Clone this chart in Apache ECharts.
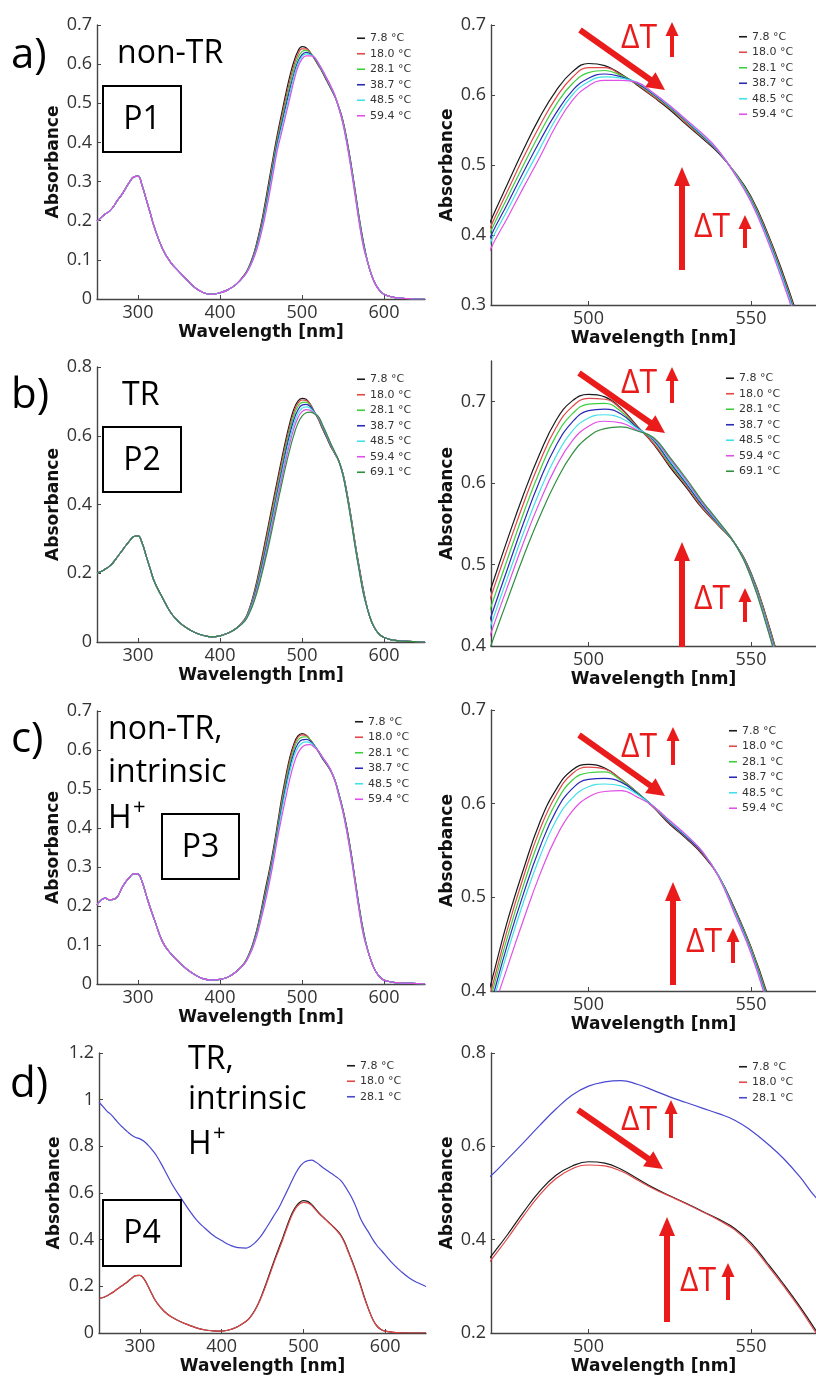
<!DOCTYPE html>
<html><head><meta charset="utf-8">
<script src="https://cdn.jsdelivr.net/npm/echarts@6/dist/echarts.min.js"></script>
<style>html,body{margin:0;padding:0;background:#fff}#c{width:816px;height:1381px}</style>
</head><body><div id="c"></div>
<script>
// ---------- wavelength grids (nm) ----------
const WL_UV = [250,255,260,265,270,275,280,285,290,295,300,305,310,315,320,330,340,350,360,370,380,390,400,410,420];
const WL_VIS = [430,435,440,445,450,455,460,465,470,475,480,485,490,495,500,505,510,515,520,525,530,535,540,545,550,555,560,565,570,575];
const WL_TAIL = [580,585,590,595,600,610,620,630,640,650];

// ---------- tick labels ----------
const X_TICKS_FULL = [300,400,500,600];
const X_TICKS_ZOOM = [500,550];
const Y_TICKS_A_FULL = [0,0.1,0.2,0.3,0.4,0.5,0.6,0.7];
const Y_TICKS_A_ZOOM = [0.3,0.4,0.5,0.6,0.7];
const Y_TICKS_B_FULL = [0,0.2,0.4,0.6,0.8];
const Y_TICKS_B_ZOOM = [0.4,0.5,0.6,0.7];
const Y_TICKS_C_FULL = [0,0.1,0.2,0.3,0.4,0.5,0.6,0.7];
const Y_TICKS_C_ZOOM = [0.4,0.5,0.6,0.7];
const Y_TICKS_D_FULL = [0,0.2,0.4,0.6,0.8,1,1.2];
const Y_TICKS_D_ZOOM = [0.2,0.4,0.6,0.8];

// ---------- legend names ----------
const TEMPS6 = ['7.8 °C','18.0 °C','28.1 °C','38.7 °C','48.5 °C','59.4 °C'];
const TEMPS7 = ['7.8 °C','18.0 °C','28.1 °C','38.7 °C','48.5 °C','59.4 °C','69.1 °C'];
const TEMPS_D = ['7.8 °C','18.0 °C','28.1 °C\u200b'];

// ---------- panel a (P1, non-TR) ----------
const A_UV = [0.199,0.208,0.217,0.224,0.236,0.252,0.266,0.283,0.300,0.312,0.314,0.290,0.255,0.219,0.183,0.128,0.093,0.070,0.048,0.028,0.016,0.012,0.016,0.024,0.038];
const A_TAIL = [0.095,0.060,0.036,0.021,0.012,0.005,0.002,0.001,0.000,0.000];
const A_78  = [0.062,0.081,0.108,0.145,0.190,0.245,0.305,0.364,0.421,0.472,0.522,0.568,0.606,0.633,0.645,0.642,0.630,0.614,0.597,0.579,0.558,0.538,0.517,0.490,0.455,0.404,0.343,0.275,0.205,0.145];
const A_180 = [0.062,0.080,0.106,0.141,0.185,0.238,0.297,0.356,0.413,0.462,0.511,0.556,0.596,0.625,0.639,0.639,0.629,0.615,0.598,0.581,0.560,0.540,0.518,0.489,0.453,0.402,0.340,0.272,0.202,0.142];
const A_281 = [0.061,0.079,0.104,0.138,0.180,0.232,0.290,0.349,0.406,0.453,0.500,0.545,0.586,0.616,0.632,0.635,0.628,0.616,0.600,0.582,0.562,0.541,0.519,0.489,0.452,0.400,0.338,0.270,0.200,0.140];
const A_387 = [0.061,0.078,0.102,0.135,0.176,0.226,0.283,0.342,0.399,0.444,0.490,0.534,0.574,0.606,0.624,0.630,0.626,0.617,0.601,0.583,0.563,0.542,0.519,0.488,0.450,0.398,0.336,0.267,0.197,0.138];
const A_485 = [0.060,0.077,0.100,0.131,0.171,0.219,0.275,0.334,0.391,0.435,0.480,0.523,0.566,0.600,0.619,0.626,0.624,0.618,0.602,0.584,0.564,0.543,0.520,0.488,0.449,0.396,0.334,0.265,0.195,0.136];
const A_594 = [0.060,0.076,0.098,0.127,0.165,0.211,0.265,0.323,0.381,0.424,0.468,0.511,0.556,0.592,0.613,0.621,0.621,0.618,0.603,0.585,0.565,0.545,0.521,0.487,0.447,0.393,0.330,0.261,0.191,0.132];

// ---------- panel b (P2, TR) ----------
const B_UV = [0.200,0.205,0.212,0.220,0.232,0.248,0.264,0.280,0.295,0.307,0.309,0.288,0.250,0.212,0.175,0.128,0.085,0.058,0.040,0.027,0.019,0.015,0.018,0.026,0.040];
const B_TAIL = [0.095,0.058,0.035,0.021,0.013,0.006,0.003,0.002,0.001,0.000];
const B_78  = [0.066,0.092,0.130,0.178,0.233,0.292,0.352,0.412,0.471,0.530,0.586,0.636,0.677,0.701,0.709,0.706,0.692,0.670,0.648,0.620,0.595,0.569,0.548,0.526,0.490,0.432,0.362,0.285,0.215,0.150];
const B_180 = [0.065,0.090,0.126,0.172,0.225,0.283,0.342,0.401,0.461,0.519,0.575,0.626,0.668,0.694,0.704,0.703,0.691,0.669,0.649,0.622,0.597,0.570,0.548,0.526,0.489,0.431,0.361,0.284,0.214,0.149];
const B_281 = [0.064,0.088,0.122,0.166,0.217,0.272,0.330,0.389,0.448,0.506,0.563,0.615,0.658,0.685,0.697,0.698,0.688,0.668,0.652,0.624,0.599,0.572,0.549,0.526,0.488,0.429,0.359,0.282,0.212,0.147];
const B_387 = [0.063,0.086,0.118,0.160,0.209,0.262,0.319,0.377,0.436,0.494,0.551,0.603,0.646,0.675,0.689,0.691,0.685,0.668,0.653,0.626,0.600,0.573,0.550,0.526,0.487,0.427,0.357,0.280,0.210,0.145];
const B_485 = [0.062,0.084,0.114,0.154,0.201,0.253,0.309,0.367,0.426,0.483,0.539,0.590,0.633,0.664,0.680,0.684,0.680,0.667,0.654,0.628,0.602,0.575,0.551,0.526,0.486,0.426,0.355,0.278,0.208,0.143];
const B_594 = [0.061,0.082,0.111,0.149,0.194,0.245,0.299,0.357,0.416,0.472,0.527,0.577,0.620,0.652,0.670,0.676,0.674,0.665,0.655,0.630,0.604,0.576,0.552,0.526,0.485,0.424,0.353,0.276,0.206,0.141];
const B_691 = [0.060,0.080,0.107,0.143,0.187,0.236,0.288,0.344,0.401,0.456,0.510,0.559,0.602,0.636,0.657,0.667,0.669,0.664,0.656,0.632,0.606,0.578,0.553,0.526,0.484,0.422,0.351,0.274,0.204,0.139];

// ---------- panel c (P3, non-TR, intrinsic H+) ----------
const C_UV = [0.203,0.215,0.220,0.216,0.217,0.224,0.245,0.262,0.274,0.283,0.282,0.262,0.228,0.195,0.165,0.108,0.078,0.056,0.037,0.023,0.013,0.010,0.012,0.018,0.032];
const C_TAIL = [0.088,0.055,0.032,0.018,0.010,0.005,0.003,0.002,0.001,0.000];
const C_78  = [0.055,0.075,0.103,0.140,0.187,0.240,0.290,0.345,0.408,0.474,0.530,0.580,0.615,0.636,0.642,0.638,0.626,0.612,0.596,0.578,0.563,0.546,0.523,0.488,0.447,0.397,0.335,0.265,0.195,0.135];
const C_180 = [0.054,0.074,0.101,0.137,0.182,0.233,0.283,0.338,0.400,0.465,0.522,0.572,0.609,0.632,0.639,0.637,0.626,0.612,0.596,0.579,0.564,0.547,0.523,0.487,0.446,0.395,0.333,0.263,0.193,0.133];
const C_281 = [0.054,0.073,0.099,0.134,0.178,0.227,0.277,0.332,0.394,0.457,0.513,0.563,0.601,0.625,0.633,0.634,0.625,0.612,0.597,0.580,0.565,0.548,0.523,0.486,0.445,0.393,0.331,0.261,0.191,0.131];
const C_387 = [0.053,0.072,0.097,0.131,0.174,0.221,0.271,0.326,0.387,0.449,0.504,0.553,0.592,0.616,0.626,0.627,0.623,0.611,0.597,0.580,0.565,0.548,0.523,0.485,0.443,0.391,0.329,0.259,0.189,0.129];
const C_485 = [0.053,0.071,0.095,0.128,0.170,0.215,0.265,0.320,0.381,0.441,0.495,0.543,0.582,0.606,0.618,0.621,0.619,0.610,0.597,0.581,0.566,0.549,0.523,0.484,0.442,0.389,0.327,0.257,0.187,0.127];
const C_594 = [0.052,0.070,0.093,0.124,0.165,0.208,0.257,0.311,0.372,0.425,0.476,0.524,0.564,0.592,0.607,0.613,0.614,0.607,0.597,0.582,0.567,0.549,0.522,0.482,0.440,0.386,0.324,0.254,0.184,0.124];

// ---------- panel d (P4, TR, intrinsic H+) ----------
const D_UV = [0.149,0.152,0.160,0.170,0.182,0.195,0.207,0.220,0.235,0.246,0.247,0.232,0.200,0.165,0.134,0.092,0.066,0.048,0.034,0.021,0.013,0.009,0.008,0.014,0.028];
const D_TAIL = [0.100,0.058,0.030,0.015,0.008,0.003,0.001,0.000,0.000,0.000];
const D_78  = [0.050,0.068,0.094,0.128,0.170,0.218,0.268,0.317,0.364,0.410,0.459,0.504,0.538,0.558,0.567,0.564,0.551,0.531,0.511,0.494,0.478,0.461,0.444,0.424,0.393,0.350,0.305,0.257,0.205,0.150];
const D_180 = [0.050,0.067,0.092,0.125,0.166,0.212,0.261,0.310,0.356,0.402,0.451,0.496,0.531,0.552,0.560,0.558,0.547,0.528,0.509,0.493,0.477,0.460,0.442,0.421,0.389,0.346,0.301,0.253,0.200,0.146];
const D_281_UV = [0.989,0.970,0.950,0.935,0.915,0.895,0.878,0.862,0.848,0.838,0.832,0.822,0.805,0.785,0.762,0.700,0.634,0.580,0.528,0.482,0.448,0.418,0.396,0.377,0.366];
const D_281 = [0.364,0.371,0.384,0.402,0.425,0.452,0.480,0.509,0.537,0.572,0.608,0.645,0.680,0.710,0.729,0.738,0.741,0.733,0.720,0.706,0.694,0.682,0.670,0.656,0.634,0.606,0.574,0.535,0.490,0.458];
const D_281_TAIL = [0.430,0.400,0.375,0.355,0.335,0.295,0.262,0.235,0.215,0.199];

// ---------- styling ----------
const COL6 = ['#1a1a1a','#e24646','#3ccf3c','#2a2ab8','#40e0ea','#e050e6'];
const COL7 = ['#1a1a1a','#e24646','#3ccf3c','#2a2ab8','#40e0ea','#e050e6','#2f8f3f'];
const COLD = ['#1a1a1a','#e24646','#4848d0'];
const RED = '#ea1b1b';
const TICK_FONT = 'Open Sans';
const NAME_FONT = 'DejaVu Sans';
const ANNO_FONT = 'Open Sans';

const WL = WL_UV.concat(WL_VIS, WL_TAIL);

const GRIDS = [
  {left:97, top:25, width:328, height:274},
  {left:491, top:25, width:325, height:280},
  {left:97, top:367, width:328, height:275},
  {left:491, top:361, width:325, height:285},
  {left:97, top:711, width:328, height:273},
  {left:491, top:710, width:325, height:281},
  {left:99, top:1053, width:327, height:280},
  {left:491, top:1053, width:325, height:280}
];
const Y_RANGES = [
  [0,0.7,Y_TICKS_A_FULL],[0.3,0.7,Y_TICKS_A_ZOOM],
  [0,0.8,Y_TICKS_B_FULL],[0.4,0.75,Y_TICKS_B_ZOOM],
  [0,0.7,Y_TICKS_C_FULL],[0.4,0.7,Y_TICKS_C_ZOOM],
  [0,1.2,Y_TICKS_D_FULL],[0.2,0.8,Y_TICKS_D_ZOOM]
];

const axisLineStyle = {show:true, onZero:false, lineStyle:{color:'#444', width:1.4}};
const xAxes = GRIDS.map((g,i) => {
  const zoom = i % 2 === 1;
  const ticks = zoom ? X_TICKS_ZOOM : X_TICKS_FULL;
  return {
    type:'value', gridIndex:i, min: zoom?470:250, max: zoom?570:650,
    axisLine: axisLineStyle,
    axisTick:{show:true, inside:true, length:4, customValues:ticks, lineStyle:{color:'#444'}},
    axisLabel:{customValues:ticks, margin:5, fontFamily:TICK_FONT, fontSize:18, color:'#333'},
    splitLine:{show:false},
    name:'Wavelength [nm]', nameLocation:'middle', nameGap:25,
    nameTextStyle:{fontFamily:NAME_FONT, fontWeight:'bold', fontSize:17, color:'#111'}
  };
});
const yAxes = GRIDS.map((g,i) => {
  const [mn,mx,ticks] = Y_RANGES[i];
  return {
    type:'value', gridIndex:i, min:mn, max:mx,
    axisLine: axisLineStyle,
    axisTick:{show:true, inside:true, length:4, customValues:ticks, lineStyle:{color:'#444'}},
    axisLabel:{customValues:ticks, margin:5, fontFamily:TICK_FONT, fontSize:18, color:'#333'},
    splitLine:{show:false},
    name:'Absorbance', nameLocation:'middle', nameGap: (i===6?36:35),
    nameTextStyle:{fontFamily:NAME_FONT, fontWeight:'bold', fontSize:17, color:'#111'}
  };
});

const PANELS = [
  {names:TEMPS6, colors:COL6, vis:[A_78,A_180,A_281,A_387,A_485,A_594], uv:[A_UV,A_UV,A_UV,A_UV,A_UV,A_UV], tail:[A_TAIL,A_TAIL,A_TAIL,A_TAIL,A_TAIL,A_TAIL], g:0},
  {names:TEMPS7, colors:COL7, vis:[B_78,B_180,B_281,B_387,B_485,B_594,B_691], uv:[B_UV,B_UV,B_UV,B_UV,B_UV,B_UV,B_UV], tail:[B_TAIL,B_TAIL,B_TAIL,B_TAIL,B_TAIL,B_TAIL,B_TAIL], g:2},
  {names:TEMPS6, colors:COL6, vis:[C_78,C_180,C_281,C_387,C_485,C_594], uv:[C_UV,C_UV,C_UV,C_UV,C_UV,C_UV], tail:[C_TAIL,C_TAIL,C_TAIL,C_TAIL,C_TAIL,C_TAIL], g:4},
  {names:TEMPS_D, colors:COLD, vis:[D_78,D_180,D_281], uv:[D_UV,D_UV,D_281_UV], tail:[D_TAIL,D_TAIL,D_281_TAIL], g:6}
];

const series = [];
PANELS.forEach(p => {
  p.names.forEach((nm, k) => {
    const vals = p.uv[k].concat(p.vis[k], p.tail[k]);
    const data = WL.map((w, j) => [w, vals[j]]);
    [p.g, p.g + 1].forEach(gi => {
      series.push({
        type:'line', name:nm, xAxisIndex:gi, yAxisIndex:gi, data:data,
        showSymbol:false, symbol:'none', smooth:0.45, clip:true,
        lineStyle:{color:p.colors[k], width:1.2}, itemStyle:{color:p.colors[k]},
        emphasis:{disabled:true}, silent:true
      });
    });
  });
});

function legend(names, left, top) {
  return {orient:'vertical', left:left, top:top, padding:0, itemGap:0, icon:'rect',
    itemWidth:8, itemHeight:1.6, data:names, selectedMode:false,
    textStyle:{fontFamily:'DejaVu Sans', fontSize:11, color:'#333', lineHeight:15.5}};
}
const legends = [
  legend(TEMPS6, 357, 30.5), legend(TEMPS6, 739, 29),
  legend(TEMPS7, 357, 371.5), legend(TEMPS7, 726, 370.5),
  legend(TEMPS6, 355, 714), legend(TEMPS6, 729, 723),
  legend(TEMPS_D, 347, 1058), legend(TEMPS_D, 739, 1059)
];

// ---------- annotations ----------
function txt(s, x, y, size, color, align) {
  return {type:'text', z:100, style:{text:s, x:x, y:y, fontSize:size, fontFamily:ANNO_FONT,
    fill:color||'#000', align:align||'left', verticalAlign:'middle', textAlign:align||'left', textVerticalAlign:'middle'}};
}
function box(x, y, w, h, label) {
  return [
    {type:'rect', z:100, shape:{x:x, y:y, width:w, height:h}, style:{fill:'none', stroke:'#000', lineWidth:2}},
    txt(label, x + w/2, y + h/2 + 1, 32, '#000', 'center')
  ];
}
function arrow(x1, y1, x2, y2, w, hl, hw) {
  const dx = x2 - x1, dy = y2 - y1, L = Math.hypot(dx, dy), ux = dx/L, uy = dy/L, px = -uy, py = ux;
  const bx = x2 - ux*hl, by = y2 - uy*hl;
  return [
    {type:'line', z:100, shape:{x1:x1, y1:y1, x2:bx + ux, y2:by + uy}, style:{stroke:RED, lineWidth:w}},
    {type:'polygon', z:100, shape:{points:[[x2,y2],[bx + px*hw/2, by + py*hw/2],[bx - px*hw/2, by - py*hw/2]]}, style:{fill:RED}}
  ];
}
function dT(tx, ty, ax, ay1, ay2) {
  return [txt('ΔT', tx, ty, 32, RED)].concat(arrow(ax, ay1, ax, ay2, 4, 14, 13));
}

const graphics = [].concat(
  txt('a)', 11, 56, 42), txt('non-TR', 117, 54, 32), box(103, 86, 78, 66, 'P1'),
  txt('b)', 11, 396, 42), txt('TR', 122, 396, 32), box(103, 427, 78, 65, 'P2'),
  txt('c)', 11, 740, 42), txt('non-TR,', 108, 730, 32), txt('intrinsic', 108, 773, 32), txt('H', 108, 819, 32), txt('+', 133, 808, 22),
  box(162, 814, 77, 65, 'P3'),
  txt('d)', 10, 1085, 42), txt('TR,', 188, 1060, 32), txt('intrinsic', 188, 1100, 32), txt('H', 188, 1145, 32), txt('+', 213, 1134, 22),
  box(103, 1200, 78, 66, 'P4'),
  // a right
  arrow(580, 30, 665, 90, 6, 18, 18), dT(621, 39, 672, 57, 22),
  arrow(682, 270, 682, 167, 6, 19, 16), dT(694, 228, 745, 248, 215),
  // b right
  arrow(579, 373, 665, 433, 6, 18, 18), dT(621, 384, 672, 403, 367),
  arrow(682, 647, 682, 542, 6, 19, 16), dT(694, 600, 745, 622, 588),
  // c right
  arrow(579, 735, 665, 796, 6, 18, 18), dT(621, 748, 673, 765, 727),
  arrow(673, 985, 673, 882, 6, 19, 16), dT(686, 943, 733, 963, 928),
  // d right
  arrow(578, 1110, 663, 1169, 6, 18, 18), dT(621, 1121, 671, 1138, 1100),
  arrow(667, 1322, 667, 1217, 6, 19, 16), dT(680, 1282, 728, 1300, 1263)
);

const chart = echarts.init(document.getElementById('c'), null, {renderer:'canvas'});
chart.setOption({
  animation:false,
  backgroundColor:'#fff',
  grid: GRIDS,
  xAxis: xAxes,
  yAxis: yAxes,
  legend: legends,
  series: series,
  graphic: {elements: graphics}
});
</script>
</body></html>
